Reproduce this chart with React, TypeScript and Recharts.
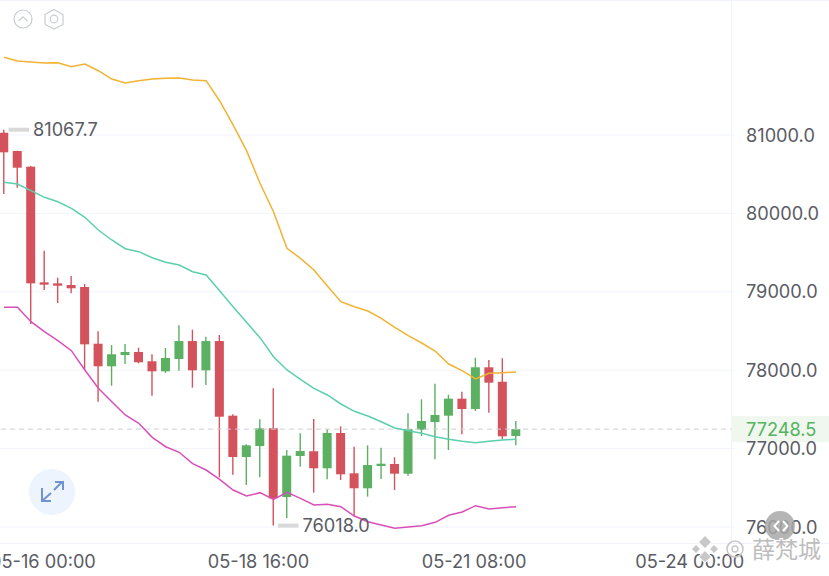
import { Bar, CartesianGrid, ComposedChart, Line, ReferenceDot, ReferenceLine, XAxis, YAxis } from 'recharts';

// 4h candles, first one is 05-15 12:00
const opens = [81029, 80796, 80596, 79121, 79108, 79087, 79061, 78338, 78050, 78194, 78232, 78114, 77986, 78143, 78372, 77999, 78372, 77420, 76893, 77033, 77259, 76383, 76906, 76966, 76749, 77199, 76685, 76494, 76778, 76804, 76680, 77241, 77339, 77420, 77637, 77505, 78037, 77853, 77161];
const closes = [80779, 80583, 79108, 79091, 79078, 79045, 78330, 78050, 78203, 78232, 78101, 77986, 78156, 78372, 77999, 78372, 77407, 76893, 77042, 77259, 76366, 76910, 76969, 76749, 77199, 76672, 76494, 76791, 76807, 76680, 77250, 77352, 77429, 77637, 77505, 78037, 77841, 77157, 77248.5];
const highs = [81067.7, 80800, 80605, 79524, 79180, 79202, 79100, 78496, 78321, 78334, 78287, 78203, 78283, 78573, 78517, 78427, 78449, 77438, 77055, 77374, 77769, 76982, 77195, 77378, 77246, 77284, 77024, 77042, 77011, 76889, 77450, 77629, 77828, 77687, 77726, 78159, 78130, 78152, 77352];
const lows = [80247, 80328, 78589, 79023, 78857, 78981, 78003, 77598, 77802, 78079, 78088, 77675, 77964, 77994, 77777, 77811, 76634, 76667, 76536, 76634, 76018, 76111, 76769, 76438, 76608, 76600, 76131, 76387, 76612, 76472, 76654, 77161, 76864, 76982, 77182, 77480, 77458, 77119, 77042];

const upperBand = [81991, 81944, 81931, 81918, 81922, 81871, 81906, 81820, 81714, 81663, 81693, 81714, 81723, 81727, 81702, 81693, 81437, 81128, 80800, 80384, 80022, 79555, 79427, 79278, 79074, 78874, 78810, 78755, 78662, 78547, 78440, 78347, 78245, 78079, 77994, 77888, 77960, 77968, 77977];
const middleBand = [80397, 80375, 80290, 80205, 80149, 80065, 79950, 79788, 79661, 79550, 79512, 79435, 79376, 79342, 79256, 79214, 79014, 78810, 78611, 78415, 78172, 78003, 77884, 77769, 77684, 77569, 77476, 77416, 77343, 77263, 77228, 77195, 77152, 77119, 77093, 77075, 77093, 77110, 77119];
const lowerBand = [78802, 78802, 78619, 78491, 78376, 78249, 78003, 77769, 77598, 77429, 77323, 77144, 77024, 76953, 76808, 76727, 76608, 76472, 76395, 76438, 76353, 76443, 76366, 76281, 76290, 76259, 76140, 76068, 76026, 75983, 76000, 76017, 76060, 76149, 76191, 76272, 76230, 76246, 76259];

const priceTicks = [81000, 80000, 79000, 78000, 77248.5, 77000, 76000];
const gridPrices = [81000, 80000, 79000, 78000, 77000, 76000];
const lastPrice = 77248.5;
const timeTicks = [3, 19, 35, 51];
const timeLabels = ['05-16 00:00', '05-18 16:00', '05-21 08:00', '05-24 00:00'];

const UP = '#5bb062';
const DOWN = '#d4525b';
const TEXT = '#5a5b63';
const FONT = 'Inter, sans-serif';
const FONT_SIZE = 18.2;

const rows = opens.map((open, i) => ({
  idx: i,
  open,
  close: closes[i],
  high: highs[i],
  low: lows[i],
  range: [lows[i], highs[i]],
  upper: upperBand[i],
  middle: middleBand[i],
  lower: lowerBand[i],
}));

function Candle(props: any) {
  const { x, y, width, height, payload } = props;
  const perUnit = height / (payload.high - payload.low);
  const top = y + (payload.high - Math.max(payload.open, payload.close)) * perUnit;
  const bottom = y + (payload.high - Math.min(payload.open, payload.close)) * perUnit;
  const color = payload.close >= payload.open ? UP : DOWN;
  const cx = x + width / 2;
  return (
    <g>
      <line x1={cx} x2={cx} y1={y} y2={y + height} stroke={color} strokeWidth={1.4} />
      <rect x={x} y={top} width={width} height={Math.max(bottom - top, 1.5)} fill={color} />
    </g>
  );
}

function PriceTick(props: any) {
  const { x, y, payload } = props;
  const isLast = payload.value === lastPrice;
  return (
    <g>
      {isLast && <rect x={x - 14} y={y - 13} width={98} height={26} fill="#eff7ee" />}
      <text x={x} y={y + 6.5} fontSize={FONT_SIZE} fontFamily={FONT} fill={isLast ? '#56b35f' : TEXT}>
        {payload.value.toFixed(1)}
      </text>
    </g>
  );
}

function ExtremeMark(props: any) {
  const { cx, cy, text } = props;
  return (
    <g>
      <rect x={cx + 4.5} y={cy - 2} width={20.5} height={4} fill="#d9d9d9" />
      <text x={cx + 29} y={cy + 6.5} fontSize={FONT_SIZE} fontFamily={FONT} fill={TEXT}>
        {text}
      </text>
    </g>
  );
}

function Overlay() {
  return (
    <svg width={829} height={576} style={{ position: 'absolute', left: 0, top: 0, pointerEvents: 'none' }}>
      <line x1={0} x2={829} y1={0.5} y2={0.5} stroke="#eff2f8" />
      <line x1={731.5} x2={731.5} y1={0} y2={543} stroke="#eff3fa" />
      <line x1={0} x2={829} y1={543.5} y2={543.5} stroke="#eff2f8" />

      {/* collapse + settings icons */}
      <circle cx={23} cy={19} r={9} fill="none" stroke="#c9ccd4" strokeWidth={1.2} />
      <path d="M18.5 21 L23 16.8 L27.5 21" fill="none" stroke="#c9ccd4" strokeWidth={1.2} />
      <path d="M54 9.5 L63 14.5 L63 24.5 L54 29 L45 24.5 L45 14.5 Z" fill="none" stroke="#c9ccd4" strokeWidth={1.2} />
      <circle cx={54} cy={19} r={3.8} fill="none" stroke="#c9ccd4" strokeWidth={1.2} />

      {/* fullscreen button */}
      <circle cx={52} cy={492} r={23} fill="#edf4fd" />
      <path d="M42 488 L42 501 L51 501 M42 501 L51 493 M54 490 L62 482 M55 482 L63 482 L63 490" fill="none" stroke="#6f94cf" strokeWidth={2} />

      {/* scroll handle */}
      <circle cx={780} cy={526} r={15} fill="#a8a8a8" opacity={0.85} />
      <path d="M779 521 L774.5 526 L779 531 M783 521 L787.5 526 L783 531" fill="none" stroke="#fff" strokeWidth={2} />

      {/* watermark */}
      <g stroke="#ffffff" strokeWidth={2} paintOrder="stroke">
        <path d="M705 536 L711 542 L705 548 L699 542 Z M696 545 L700 549 L696 553 L692 549 Z M714 545 L718 549 L714 553 L710 549 Z M705 551 L711 557 L705 562 L699 557 Z" fill="#c8c8c8" />
        <circle cx={735} cy={549} r={8} fill="none" stroke="#c8c8c8" strokeWidth={1.6} />
        <circle cx={735} cy={549} r={3} fill="none" stroke="#c8c8c8" strokeWidth={1.4} />
        <text x={752} y={558} fontSize={23} fontFamily='"Noto Sans CJK SC"' fill="#bdbdbd">
          薛梵城
        </text>
      </g>
    </svg>
  );
}

export default function App() {
  return (
    <div style={{ position: 'absolute', left: 0, top: 0, width: 829, height: 576, overflow: 'hidden', background: '#fff' }}>
      <ComposedChart width={829} height={576} data={rows} margin={{ top: 0, right: 0, bottom: 0, left: 0 }}>
        <CartesianGrid vertical={false} stroke="#f2f4fa" horizontalValues={gridPrices} />
        <XAxis
          dataKey="idx"
          type="number"
          domain={[-0.297, 54.25]}
          allowDataOverflow
          ticks={timeTicks}
          interval={0}
          height={33}
          tickLine={false}
          axisLine={false}
          tickMargin={6}
          tickFormatter={(v: number) => timeLabels[timeTicks.indexOf(v)]}
          tick={{ fontSize: FONT_SIZE, fill: TEXT, fontFamily: FONT, dx: -1.5 }}
        />
        <YAxis
          orientation="right"
          type="number"
          domain={[75796, 82722]}
          allowDataOverflow
          ticks={priceTicks}
          interval={0}
          width={94}
          tickLine={false}
          axisLine={false}
          tick={(p: any) => <PriceTick {...p} x={746} />}
        />
        <ReferenceLine y={lastPrice} stroke="#cfcfd4" strokeDasharray="5 4" />
        <Bar dataKey="range" barSize={9} shape={Candle} isAnimationActive={false} />
        <Line dataKey="upper" stroke="#f2b233" strokeWidth={1.5} dot={false} activeDot={false} isAnimationActive={false} />
        <Line dataKey="middle" stroke="#5ccfae" strokeWidth={1.5} dot={false} activeDot={false} isAnimationActive={false} />
        <Line dataKey="lower" stroke="#d94fb8" strokeWidth={1.5} dot={false} activeDot={false} isAnimationActive={false} />
        <ReferenceDot x={0} y={81067.7} shape={(p: any) => <ExtremeMark {...p} text="81067.7" />} />
        <ReferenceDot x={20} y={76018} shape={(p: any) => <ExtremeMark {...p} text="76018.0" />} />
      </ComposedChart>
      <Overlay />
    </div>
  );
}
